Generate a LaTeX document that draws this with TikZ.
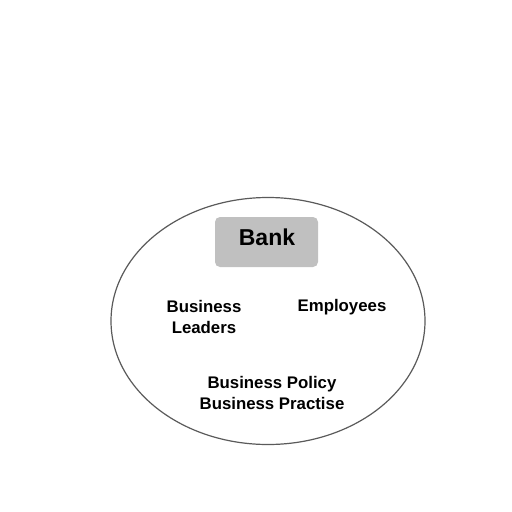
\documentclass[tikz,border=0pt]{standalone}
\usepackage{fontspec}
\setmainfont{Liberation Sans}
\usepackage{tikz}
\usetikzlibrary{positioning, shapes}
\definecolor{boxgray}{HTML}{C0C0C0}
\definecolor{rimgray}{HTML}{5A5A5A}
\tikzstyle{rim} = [ellipse, draw=rimgray, line width=1.2pt, minimum width=314pt, minimum height=247pt, inner sep=0pt]
\tikzstyle{bankbox} = [rectangle, rounded corners=5pt, fill=boxgray, minimum width=103pt, minimum height=50pt, inner sep=0pt]
\tikzstyle{lbl} = [align=center, font=\bfseries\fontsize{16.8}{20.5}\selectfont, inner sep=0pt]

\begin{document}
\begin{tikzpicture}[x=1pt, y=-1pt]
\useasboundingbox (0,0) rectangle (512,512);

\node(R)[rim] at (268,321) {};
\node(B)[bankbox] at (266.5,242) {};
\node(BT)[font=\bfseries\fontsize{23}{26}\selectfont, inner sep=0pt] at (267,237) {Bank};

\node(BL)[lbl] at (204,317) {Business\\Leaders};
\node(E)[lbl] at (342,307) {Employees};
\node(BP)[lbl] at (272,393) {Business Policy\\Business Practise};

\end{tikzpicture}
\end{document}
